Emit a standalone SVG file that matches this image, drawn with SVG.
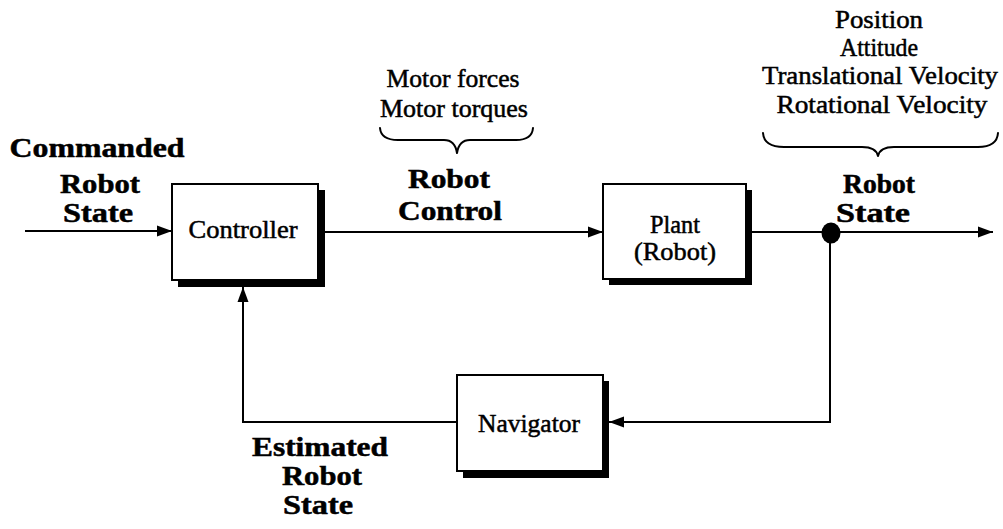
<svg xmlns="http://www.w3.org/2000/svg" width="1003" height="529" viewBox="0 0 1003 529">
<style>
.bg{fill:#fff}
.shadow{fill:#000}
.box{fill:#fff;stroke:#000;stroke-width:2}
.line{fill:none;stroke:#000;stroke-width:2}
.brace{fill:none;stroke:#000;stroke-width:2;stroke-linejoin:round;stroke-linecap:round}
.t{font-family:"Liberation Serif","Times New Roman",serif;font-size:25px;fill:#000;stroke:#000;stroke-width:0.5;text-anchor:middle}
.b{font-family:"Liberation Serif","Times New Roman",serif;font-size:27px;font-weight:bold;fill:#000;stroke:#000;stroke-width:0.5;text-anchor:middle}
</style>
<defs>
<marker id="arr" markerUnits="userSpaceOnUse" markerWidth="16" markerHeight="12" refX="15" refY="6" orient="auto">
<path d="M0,0.5 L15,6 L0,11.5 z" fill="#000"/>
</marker>
</defs>
<rect class="bg" x="0" y="0" width="1003" height="529"/>

<g id="connectors">
<path class="line" d="M25 231 L172 231" marker-end="url(#arr)"/>
<path class="line" d="M324 232 L603 232" marker-end="url(#arr)"/>
<path class="line" d="M752 232 L993 232" marker-end="url(#arr)"/>
<path class="line" d="M830 232 L830 422 L609 422" marker-end="url(#arr)"/>
<path class="line" d="M457 422 L243 422 L243 287" marker-end="url(#arr)"/>
<ellipse cx="831" cy="233" rx="9.5" ry="10.5" fill="#000"/>
</g>

<g id="controller">
<rect class="shadow" x="178" y="190" width="147" height="97"/>
<rect class="box" x="172" y="184" width="146" height="96"/>
<text class="t" x="243" y="238" textLength="109" lengthAdjust="spacingAndGlyphs">Controller</text>
</g>

<g id="plant">
<rect class="shadow" x="609" y="190" width="143" height="95"/>
<rect class="box" x="603" y="184" width="143" height="95"/>
<text class="t" x="675" y="233" textLength="50" lengthAdjust="spacingAndGlyphs">Plant</text>
<text class="t" x="675" y="260" textLength="82" lengthAdjust="spacingAndGlyphs">(Robot)</text>
</g>

<g id="navigator">
<rect class="shadow" x="463" y="381" width="146" height="97"/>
<rect class="box" x="457" y="375" width="146" height="96"/>
<text class="t" x="529" y="432" textLength="102" lengthAdjust="spacingAndGlyphs">Navigator</text>
</g>

<g id="commanded-label">
<text class="b" x="97" y="157" textLength="175" lengthAdjust="spacingAndGlyphs">Commanded</text>
<text class="b" x="100" y="193" textLength="80" lengthAdjust="spacingAndGlyphs">Robot</text>
<text class="b" x="98" y="222" textLength="70" lengthAdjust="spacingAndGlyphs">State</text>
</g>

<g id="control-label">
<text class="t" x="453" y="87" textLength="133" lengthAdjust="spacingAndGlyphs">Motor forces</text>
<text class="t" x="454" y="117" textLength="148" lengthAdjust="spacingAndGlyphs">Motor torques</text>
<path class="brace" d="M380 128 Q381 140 398 140 L444 140 Q455 140 457 153 Q459 140 470 140 L516 140 Q532 140 533 128"/>
<text class="b" x="449" y="188" textLength="82" lengthAdjust="spacingAndGlyphs">Robot</text>
<text class="b" x="450" y="220" textLength="104" lengthAdjust="spacingAndGlyphs">Control</text>
</g>

<g id="state-label">
<text class="t" x="879" y="28" textLength="88" lengthAdjust="spacingAndGlyphs">Position</text>
<text class="t" x="879" y="56" textLength="78" lengthAdjust="spacingAndGlyphs">Attitude</text>
<text class="t" x="880" y="84" textLength="236" lengthAdjust="spacingAndGlyphs">Translational Velocity</text>
<text class="t" x="882" y="113" textLength="211" lengthAdjust="spacingAndGlyphs">Rotational Velocity</text>
<path class="brace" d="M763 133 Q764 147 784 147 L862 147 Q876 147 878 156 Q880 147 894 147 L978 147 Q997 147 998 133"/>
<text class="b" x="879" y="193" textLength="72" lengthAdjust="spacingAndGlyphs">Robot</text>
<text class="b" x="873" y="222" textLength="74" lengthAdjust="spacingAndGlyphs">State</text>
</g>

<g id="estimated-label">
<text class="b" x="320" y="456" textLength="136" lengthAdjust="spacingAndGlyphs">Estimated</text>
<text class="b" x="322" y="485" textLength="80" lengthAdjust="spacingAndGlyphs">Robot</text>
<text class="b" x="318" y="514" textLength="70" lengthAdjust="spacingAndGlyphs">State</text>
</g>
</svg>
